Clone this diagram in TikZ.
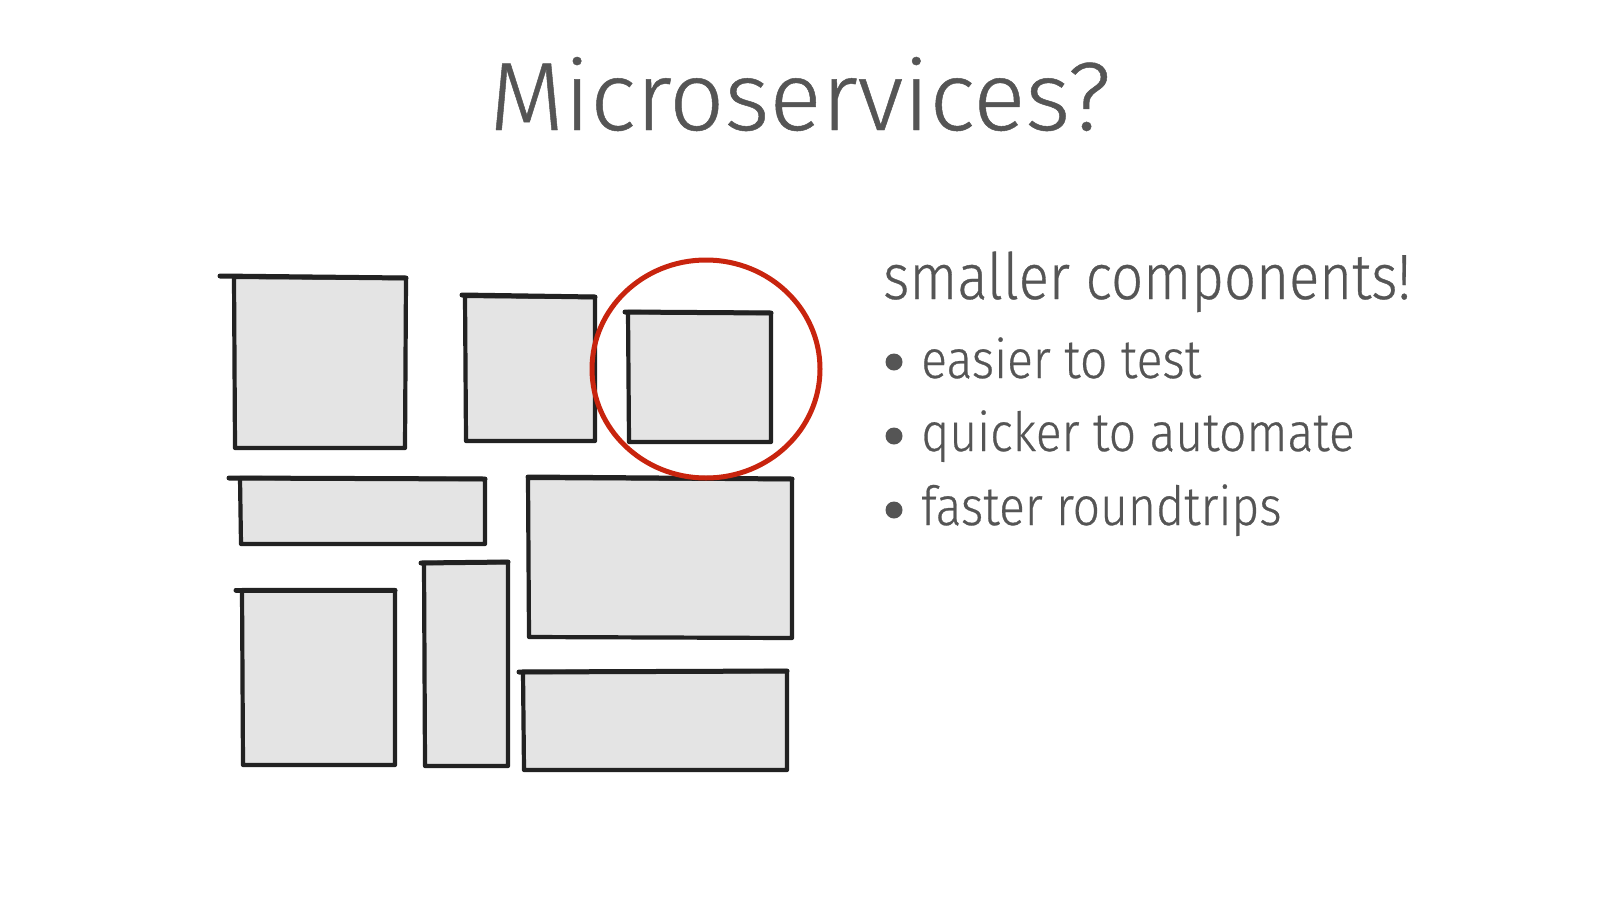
\documentclass[tikz,border=0pt]{standalone}
\usepackage{fontspec}
\setmainfont{Fira Sans Light}[FakeBold=0.5]
\newfontfamily\headfont{Fira Sans Light}[FakeStretch=0.88,FakeBold=0.5]
\newfontfamily\bulletfont{Fira Sans Light}[FakeStretch=0.89,FakeBold=0.5]
\definecolor{txt}{HTML}{555555}
\definecolor{boxfill}{HTML}{E4E4E4}
\definecolor{ink}{HTML}{222222}
\definecolor{redmark}{HTML}{C8240E}
\tikzset{
  sbox/.style={fill=boxfill, draw=ink, line width=4.2pt, line join=round, line cap=round},
  topline/.style={draw=ink, line width=5pt, line cap=round},
  txtnode/.style={anchor=base west, inner sep=0pt, text=txt},
}
\begin{document}
\begin{tikzpicture}[x=1pt,y=-1pt]
\useasboundingbox (0,0) rectangle (1600,900);
% title
\node[anchor=base, inner sep=0pt, text=txt, font=\fontsize{97}{110}\selectfont] (title) at (800,130) {Microservices?};
% boxes
\draw[sbox] (234,277) -- (406,278) -- (405,448) -- (235,448) -- cycle;
\draw[topline] (220,276) -- (406,278);
\draw[sbox] (465,296) -- (595,297) -- (595,441) -- (466,441) -- cycle;
\draw[topline] (462,295) -- (595,297);
\draw[sbox] (628,312) -- (771,313) -- (771,442) -- (629,442) -- cycle;
\draw[topline] (625,312) -- (771,313);
\draw[sbox] (240,478) -- (485,479) -- (485,544) -- (241,544) -- cycle;
\draw[topline] (229,478) -- (485,479);
\draw[sbox] (528,478) -- (792,479) -- (792,638) -- (529,637) -- cycle;
\draw[topline] (528,477) -- (792,479);
\draw[sbox] (242,590) -- (395,590) -- (395,765) -- (243,765) -- cycle;
\draw[topline] (236,590) -- (395,590);
\draw[sbox] (424,563) -- (508,562) -- (508,766) -- (425,766) -- cycle;
\draw[topline] (421,563) -- (508,562);
\draw[sbox] (523,672) -- (787,671) -- (787,770) -- (524,770) -- cycle;
\draw[topline] (519,672) -- (787,671);
% highlight circle
\draw[draw=redmark, line width=5pt] (706,369) ellipse [x radius=114, y radius=109];
% text
\node[txtnode, font=\headfont\fontsize{64}{70}\selectfont] (head) at (883,299) {smaller components!};
\fill[txt] (894,362) circle (8.5);
\node[txtnode, font=\bulletfont\fontsize{54}{62}\selectfont] (b1) at (921,378) {easier to test};
\fill[txt] (894,436) circle (8.5);
\node[txtnode, font=\bulletfont\fontsize{54}{62}\selectfont] (b2) at (921,451) {quicker to automate};
\fill[txt] (894,510) circle (8.5);
\node[txtnode, font=\bulletfont\fontsize{54}{62}\selectfont] (b3) at (921,525) {faster roundtrips};
\end{tikzpicture}
\end{document}
